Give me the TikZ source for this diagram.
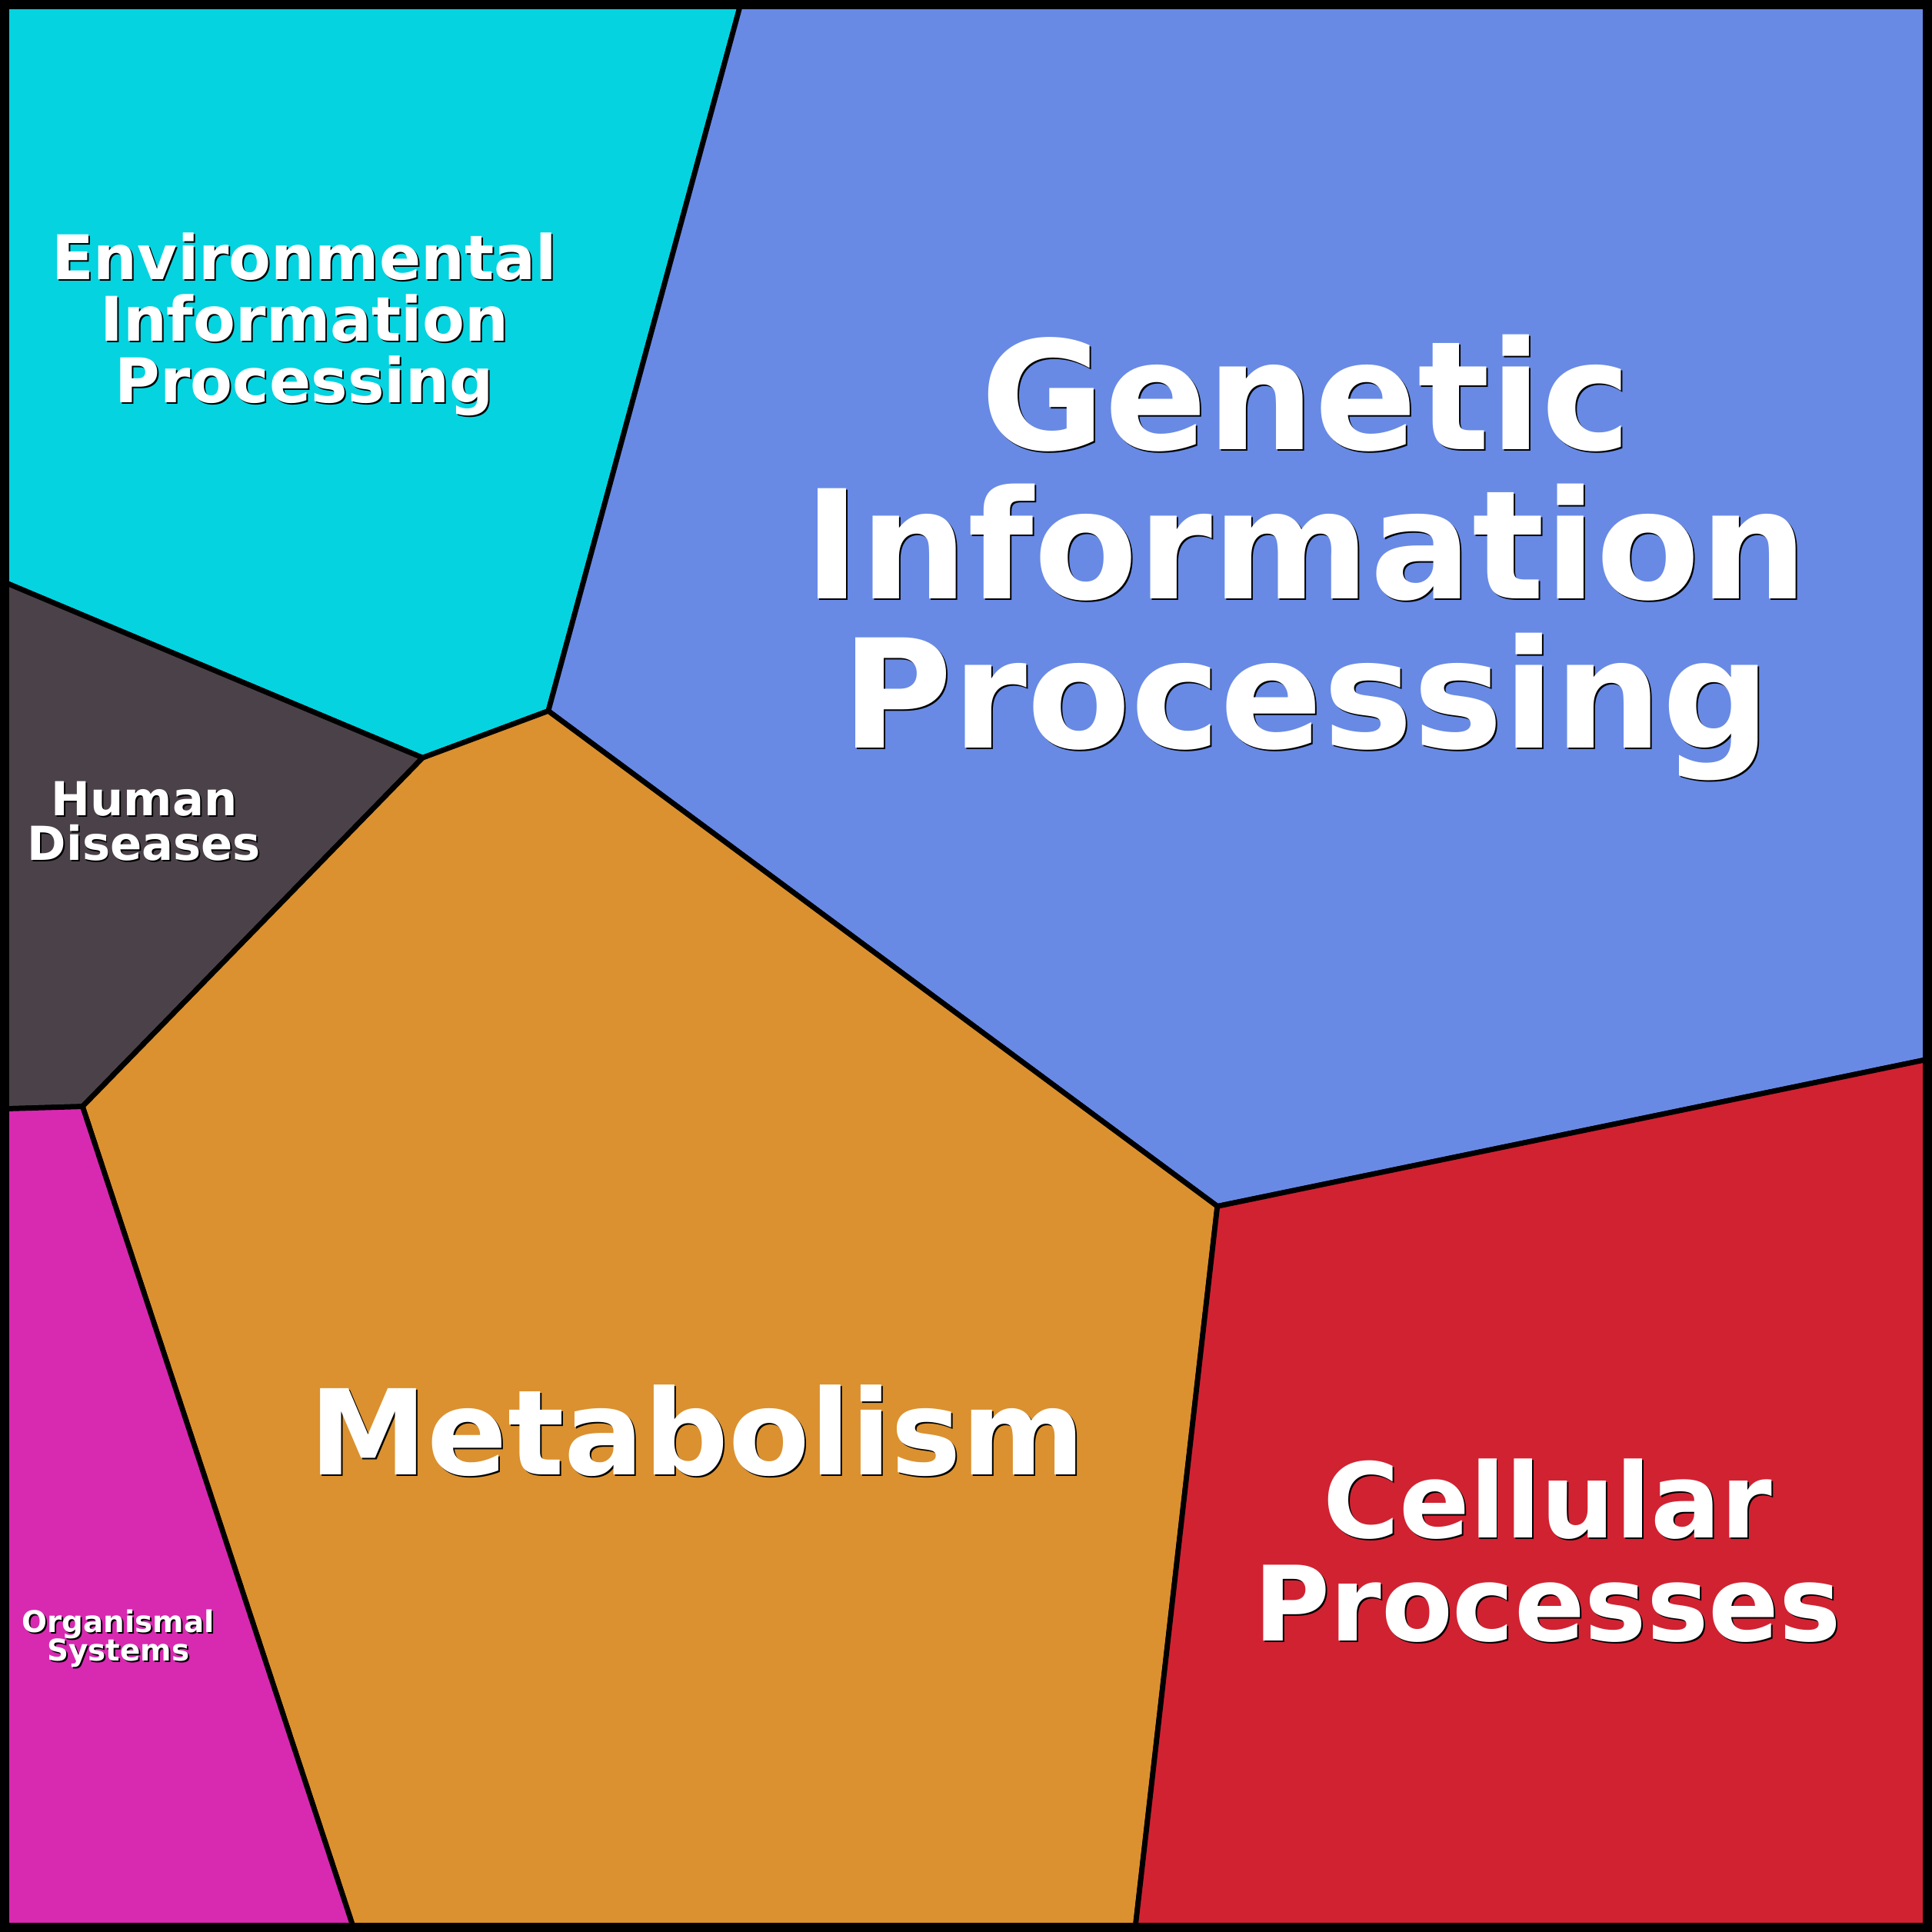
\documentclass[tikz,border=0pt]{standalone}
\usepackage{fontspec}
\newfontfamily\kegg{DejaVu Sans}
\usepackage{tikz}
\definecolor{envcol}{HTML}{05D3E0}
\definecolor{gencol}{HTML}{688AE5}
\definecolor{humcol}{HTML}{4B4249}
\definecolor{metcol}{HTML}{DB912F}
\definecolor{celcol}{HTML}{D12232}
\definecolor{orgcol}{HTML}{D829B1}
\setlength{\lineskiplimit}{-100pt}

\begin{document}
\begin{tikzpicture}[x=0.01cm, y=-0.01cm, line join=round,
cell/.style={draw=black, line width=1.2pt},
title/.style={text=white, font=\kegg\bfseries, align=center, inner sep=0pt, anchor=base},
titleshade/.style={title, text=black, xshift=0.35pt, yshift=-0.35pt}]
\useasboundingbox (0,0) rectangle (1568,1568);
% corners of the cells
\coordinate (tl) at (0,0);
\coordinate (tr) at (1568,0);
\coordinate (br) at (1568,1568);
\coordinate (bl) at (0,1568);
\coordinate (a) at (602,0);
\coordinate (b) at (445,577);
\coordinate (c) at (343,615);
\coordinate (d) at (0,471);
\coordinate (e) at (67,898);
\coordinate (f) at (0,900);
\coordinate (g) at (288,1568);
\coordinate (h) at (921,1568);
\coordinate (i) at (988,979);
\coordinate (j) at (1568,859);
% cells
\filldraw[cell, fill=envcol] (tl) -- (a) -- (b) -- (c) -- (d) -- cycle;
\filldraw[cell, fill=gencol] (a) -- (tr) -- (j) -- (i) -- (b) -- cycle;
\filldraw[cell, fill=humcol] (d) -- (c) -- (e) -- (f) -- cycle;
\filldraw[cell, fill=metcol] (c) -- (b) -- (i) -- (h) -- (g) -- (e) -- cycle;
\filldraw[cell, fill=orgcol] (f) -- (e) -- (g) -- (bl) -- cycle;
\filldraw[cell, fill=celcol] (i) -- (j) -- (br) -- (h) -- cycle;
\draw[line width=2.1pt] (3.7,3.7) rectangle (1564.3,1564.3);
% labels (anchored at the last baseline)
\node[titleshade, font=\kegg\bfseries\fontsize{14.2}{14.2}\selectfont] at (247,327) {Environmental\\Information\\Processing};
\node[title, font=\kegg\bfseries\fontsize{14.2}{14.2}\selectfont] (env) at (247,327) {Environmental\\Information\\Processing};
\node[titleshade, font=\kegg\bfseries\fontsize{34.9}{34.4}\selectfont] at (1060,607) {Genetic\\Information\\Processing};
\node[title, font=\kegg\bfseries\fontsize{34.9}{34.4}\selectfont] (gen) at (1060,607) {Genetic\\Information\\Processing};
\node[titleshade, font=\kegg\bfseries\fontsize{10.8}{10.2}\selectfont] at (117,698) {Human\\Diseases};
\node[title, font=\kegg\bfseries\fontsize{10.8}{10.2}\selectfont] (hum) at (117,698) {Human\\Diseases};
\node[titleshade, font=\kegg\bfseries\fontsize{27.3}{26}\selectfont] at (566,1197) {Metabolism};
\node[title, font=\kegg\bfseries\fontsize{27.3}{26}\selectfont] (met) at (566,1197) {Metabolism};
\node[titleshade, font=\kegg\bfseries\fontsize{24}{23.9}\selectfont] at (1256,1332) {Cellular\\Processes};
\node[title, font=\kegg\bfseries\fontsize{24}{23.9}\selectfont] (cel) at (1256,1332) {Cellular\\Processes};
\node[titleshade, font=\kegg\bfseries\fontsize{6.9}{6.5}\selectfont] at (96,1348) {Organismal\\Systems};
\node[title, font=\kegg\bfseries\fontsize{6.9}{6.5}\selectfont] (org) at (96,1348) {Organismal\\Systems};
\end{tikzpicture}
\end{document}
